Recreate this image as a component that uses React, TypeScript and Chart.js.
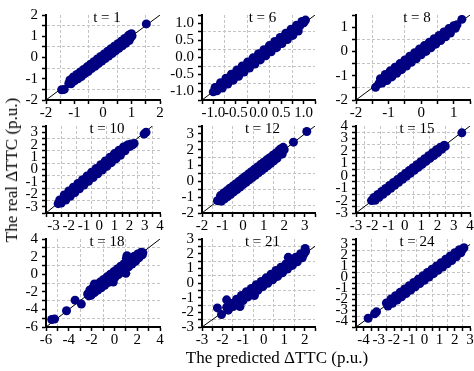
import React, { useEffect, useRef } from 'react';
import { Chart, registerables } from 'chart.js';
Chart.register(...registerables);

const FONT = "'Liberation Serif', 'Times New Roman', serif";

// Panel titles
const titles = ['t = 1', 't = 6', 't = 8', 't = 10', 't = 12', 't = 15', 't = 18', 't = 21', 't = 24'];

// Predicted (x) and real (y) ΔTTC values per panel
const predT1 = [-1.45,-1.36,-1.2,-1.16,-1.12,-1.08,-1.04,-1.0,-0.96,-0.92,-0.88,-0.84,-0.8,-0.76,-0.72,-0.68,-0.64,-0.6,-0.56,-0.52,-0.48,-0.44,-0.4,-0.36,-0.32,-0.28,-0.24,-0.2,-0.16,-0.12,-0.08,-0.04,0.0,0.04,0.08,0.12,0.16,0.2,0.24,0.28,0.32,0.36,0.4,0.44,0.48,0.52,0.56,0.6,0.64,0.68,0.72,0.76,0.8,0.84,0.88,0.92,0.95,0.98,1.0,1.02,1.52];
const realT1 = [-1.52,-1.5,-1.22,-1.06,-1.24,-1.1,-0.92,-1.1,-0.94,-0.8,-1.0,-0.82,-0.68,-0.9,-0.74,-0.56,-0.76,-0.58,-0.44,-0.66,-0.46,-0.32,-0.52,-0.37,-0.2,-0.41,-0.22,-0.07,-0.29,-0.1,0.05,-0.17,0.02,0.17,-0.05,0.13,0.29,0.07,0.26,0.41,0.19,0.38,0.53,0.31,0.5,0.65,0.43,0.62,0.77,0.55,0.74,0.9,0.67,0.86,1.02,0.8,1.08,0.95,1.12,1.02,1.58];

const predT6 = [-1.0,-0.96,-0.92,-0.88,-0.84,-0.8,-0.76,-0.72,-0.68,-0.64,-0.6,-0.56,-0.52,-0.48,-0.44,-0.4,-0.36,-0.32,-0.28,-0.24,-0.2,-0.16,-0.12,-0.08,-0.04,0.0,0.04,0.08,0.12,0.16,0.2,0.24,0.28,0.32,0.36,0.4,0.44,0.48,0.52,0.56,0.6,0.64,0.68,0.72,0.76,0.8,0.84,0.88,0.92,0.96,1.0,1.04];
const realT6 = [-1.01,-0.88,-0.98,-0.85,-0.74,-0.9,-0.75,-0.61,-0.78,-0.63,-0.49,-0.67,-0.51,-0.37,-0.55,-0.39,-0.25,-0.43,-0.27,-0.13,-0.31,-0.15,-0.01,-0.19,-0.03,0.11,-0.07,0.09,0.23,0.05,0.21,0.35,0.17,0.33,0.47,0.29,0.45,0.59,0.41,0.57,0.71,0.53,0.69,0.83,0.65,0.81,0.95,0.78,0.94,1.06,1.02,1.1];

const predT8 = [-1.4,-1.3,-1.25,-1.2,-1.15,-1.1,-1.05,-1.0,-0.95,-0.9,-0.85,-0.8,-0.75,-0.7,-0.65,-0.6,-0.55,-0.5,-0.45,-0.4,-0.35,-0.3,-0.25,-0.2,-0.15,-0.1,-0.05,0.0,0.05,0.1,0.15,0.2,0.25,0.3,0.35,0.4,0.45,0.5,0.55,0.6,0.65,0.7,0.75,0.8,0.85,0.9,0.95,1.0,1.05,1.1,1.25];
const realT8 = [-1.48,-1.33,-1.12,-1.3,-1.14,-0.95,-1.2,-0.99,-0.8,-1.05,-0.84,-0.65,-0.9,-0.69,-0.5,-0.75,-0.54,-0.35,-0.6,-0.39,-0.2,-0.45,-0.24,-0.05,-0.3,-0.09,0.1,-0.14,0.06,0.24,0.0,0.2,0.38,0.15,0.34,0.52,0.3,0.49,0.66,0.45,0.64,0.8,0.6,0.79,0.94,0.76,0.94,1.06,0.95,1.1,1.32];

const predT10 = [-2.7,-2.6,-2.5,-2.4,-2.3,-2.2,-2.1,-2.0,-1.9,-1.8,-1.7,-1.6,-1.5,-1.4,-1.3,-1.2,-1.1,-1.0,-0.9,-0.8,-0.7,-0.6,-0.5,-0.4,-0.3,-0.2,-0.1,0.0,0.1,0.2,0.3,0.4,0.5,0.6,0.7,0.8,0.9,1.0,1.1,1.2,1.3,1.4,1.5,1.6,1.7,1.8,1.9,2.0,2.1,2.2,2.3,2.95,3.08];
const realT10 = [-2.75,-2.45,-2.7,-2.38,-2.05,-2.45,-2.1,-1.72,-2.15,-1.8,-1.42,-1.85,-1.5,-1.12,-1.55,-1.2,-0.82,-1.25,-0.9,-0.52,-0.95,-0.6,-0.22,-0.65,-0.3,0.08,-0.35,0.0,0.38,-0.05,0.3,0.68,0.25,0.6,0.98,0.55,0.9,1.28,0.85,1.2,1.55,1.15,1.5,1.82,1.5,1.9,2.0,1.85,2.05,1.98,2.1,2.85,3.0];

const predT12 = [-1.25,-1.15,-1.1,-1.05,-1.0,-0.95,-0.9,-0.85,-0.8,-0.75,-0.7,-0.65,-0.6,-0.55,-0.5,-0.45,-0.4,-0.35,-0.3,-0.25,-0.2,-0.15,-0.1,-0.05,0.0,0.05,0.1,0.15,0.2,0.25,0.3,0.35,0.4,0.45,0.5,0.55,0.6,0.65,0.7,0.75,0.8,0.85,0.9,0.95,1.0,1.05,1.1,1.15,1.2,1.25,1.3,1.35,1.4,1.45,1.5,1.55,1.6,1.65,1.7,1.75,1.82,1.9,1.95,2.0,2.45,3.1];
const realT12 = [-1.22,-1.2,-0.9,-1.25,-0.98,-0.74,-1.1,-0.84,-0.6,-0.96,-0.71,-0.44,-0.82,-0.56,-0.3,-0.66,-0.41,-0.15,-0.52,-0.26,0.0,-0.36,-0.11,0.16,-0.2,0.04,0.31,-0.06,0.19,0.46,0.09,0.34,0.61,0.24,0.49,0.76,0.39,0.64,0.91,0.54,0.79,1.06,0.69,0.94,1.21,0.84,1.09,1.36,0.99,1.24,1.5,1.14,1.39,1.65,1.3,1.55,1.8,1.45,1.7,1.95,2.05,1.72,2.15,2.0,2.48,3.15];

const predT15 = [-2.05,-1.98,-1.9,-1.82,-1.74,-1.66,-1.58,-1.5,-1.42,-1.34,-1.26,-1.18,-1.1,-1.02,-0.94,-0.86,-0.78,-0.7,-0.62,-0.54,-0.46,-0.38,-0.3,-0.22,-0.14,-0.06,0.02,0.1,0.18,0.26,0.34,0.42,0.5,0.58,0.66,0.74,0.82,0.9,0.98,1.06,1.14,1.22,1.3,1.38,1.46,1.54,1.62,1.7,1.78,1.86,1.94,2.02,2.1,2.18,2.26,2.34,2.42,2.48,3.5];
const realT15 = [-2.0,-1.96,-1.75,-1.97,-1.74,-1.51,-1.73,-1.5,-1.27,-1.49,-1.26,-1.03,-1.25,-1.02,-0.79,-1.01,-0.78,-0.55,-0.77,-0.54,-0.31,-0.53,-0.3,-0.07,-0.29,-0.06,0.17,-0.05,0.18,0.41,0.19,0.42,0.65,0.43,0.66,0.89,0.67,0.9,1.13,0.91,1.14,1.37,1.15,1.38,1.61,1.39,1.62,1.85,1.63,1.86,2.09,1.87,2.1,2.3,2.12,2.33,2.45,2.36,3.45];

const predT18 = [-5.5,-5.25,-4.2,-3.45,-2.9,-1.75,-0.1,1.0,1.05,1.1,1.15,-2.35,-2.25,-2.15,-2.05,-1.95,-1.85,-1.75,-1.65,-1.55,-1.45,-1.35,-1.25,-1.15,-1.05,-0.95,-0.85,-0.75,-0.65,-0.55,-0.45,-0.35,-0.25,-0.15,-0.05,0.05,0.15,0.25,0.35,0.45,0.55,0.65,0.75,0.85,0.95,1.05,1.15,1.25,1.35,1.45,1.55,1.65,1.75,1.85,1.95,2.05,2.15,2.25,2.35,2.45,2.5];
const realT18 = [-5.15,-5.1,-4.15,-2.95,-3.4,-1.1,-0.9,0.1,1.8,2.1,1.95,-2.25,-2.45,-1.8,-2.4,-1.95,-1.45,-2.1,-1.6,-1.15,-1.8,-1.35,-0.9,-1.55,-1.05,-0.6,-1.25,-0.75,-0.3,-0.95,-0.45,0.0,-0.65,-0.15,0.3,-0.35,0.15,0.6,-0.05,0.45,0.9,0.25,0.75,1.2,0.55,1.05,1.5,0.85,1.35,1.8,1.15,1.65,2.05,1.45,1.95,2.3,1.85,2.25,2.5,2.2,2.45];

const predT21 = [-2.25,-2.05,-1.8,-1.15,-0.45,1.2,2.02,-1.8,-1.72,-1.64,-1.56,-1.48,-1.4,-1.32,-1.24,-1.16,-1.08,-1.0,-0.92,-0.84,-0.76,-0.68,-0.6,-0.52,-0.44,-0.36,-0.28,-0.2,-0.12,-0.04,0.04,0.12,0.2,0.28,0.36,0.44,0.52,0.6,0.68,0.76,0.84,0.92,1.0,1.08,1.16,1.24,1.32,1.4,1.48,1.56,1.64,1.72,1.8,1.88,1.96,2.04];
const realT21 = [-1.7,-2.15,-1.15,-1.6,-0.85,1.75,2.35,-1.65,-1.85,-1.5,-1.4,-1.6,-1.35,-1.1,-1.45,-1.12,-0.85,-1.2,-0.9,-0.6,-0.95,-0.66,-0.37,-0.72,-0.42,-0.12,-0.5,-0.18,0.1,-0.25,0.06,0.35,-0.02,0.3,0.6,0.22,0.54,0.85,0.45,0.78,1.08,0.7,1.02,1.3,0.95,1.27,1.55,1.2,1.5,1.75,1.45,1.75,2.0,1.72,1.98,2.15];

const predT24 = [-3.7,-3.28,-3.15,-2.5,-2.4,-2.3,-2.2,-2.1,-2.0,-1.9,-1.8,-1.7,-1.6,-1.5,-1.4,-1.3,-1.2,-1.1,-1.0,-0.9,-0.8,-0.7,-0.6,-0.5,-0.4,-0.3,-0.2,-0.1,0.0,0.1,0.2,0.3,0.4,0.5,0.6,0.7,0.8,0.9,1.0,1.1,1.2,1.3,1.4,1.5,1.6,1.7,1.8,1.9,2.0,2.1,2.2,2.3,2.4,2.5,2.6];
const realT24 = [-3.7,-3.3,-3.12,-2.32,-2.6,-2.28,-1.95,-2.35,-1.98,-1.65,-2.05,-1.68,-1.35,-1.75,-1.38,-1.05,-1.45,-1.08,-0.75,-1.15,-0.78,-0.45,-0.85,-0.48,-0.15,-0.55,-0.18,0.15,-0.25,0.12,0.45,0.05,0.42,0.75,0.35,0.72,1.05,0.65,1.02,1.35,0.95,1.32,1.65,1.25,1.62,1.95,1.55,1.92,2.25,1.88,2.22,2.52,2.25,2.55,2.7];

const predicted = [predT1, predT6, predT8, predT10, predT12, predT15, predT18, predT21, predT24];
const real = [realT1, realT6, realT8, realT10, realT12, realT15, realT18, realT21, realT24];

// Axis ranges and tick steps per panel
const xMin = [-2, -1.25, -2, -3.5, -2, -3, -6, -3, -4.5];
const xMax = [2, 1.25, 1.5, 4, 3.5, 4, 4, 2.5, 3];
const yMin = [-2, -1.25, -2, -3.5, -2, -3, -6, -3, -4.5];
const yMax = [2, 1.25, 1.5, 3.5, 3.5, 4, 4, 3, 3.5];
const majorStep = [1, 0.5, 1, 1, 1, 1, 2, 1, 1];
const minorStep = [0.5, 0.25, 0.5, 0.5, 0.5, 0.5, 1, 0.5, 0.5];
const decimals = [0, 1, 0, 0, 0, 0, 0, 0, 0];

// Layout (plot-area edges in page pixels)
const colLeft = [46, 202, 356];
const colRight = [160, 315, 470];
const rowTop = [14, 125, 238];
const rowBottom = [100, 213, 327];

const Y_AXIS_W = 44;
const X_AXIS_H = 22;
const PAD_TOP = 12;
const PAD_RIGHT = 10;
const TICK_FONT = 15;

const isMultiple = (v: number, step: number) => Math.abs(v / step - Math.round(v / step)) < 1e-6;
const tickList = (min: number, max: number, step: number) => {
  const out: number[] = [];
  const n = Math.round((max - min) / step);
  for (let i = 0; i <= n; i++) out.push(+(min + i * step).toFixed(4));
  return out;
};

function axis(min: number, max: number, major: number, minor: number, dec: number, horizontal: boolean) {
  const ticks = tickList(min, max, minor);
  return {
    type: 'linear',
    min,
    max,
    afterBuildTicks: (s: any) => {
      s.ticks = ticks.map((v) => ({ value: v }));
    },
    afterFit: (s: any) => {
      if (horizontal) s.height = X_AXIS_H;
      else s.width = Y_AXIS_W;
    },
    ticks: {
      autoSkip: false,
      maxRotation: 0,
      minRotation: 0,
      padding: horizontal ? 0 : 4,
      color: '#000',
      font: { family: FONT, size: TICK_FONT },
      callback: (v: any) => (isMultiple(Number(v), major) ? Number(v).toFixed(dec) : ''),
    },
    grid: {
      color: (ctx: any) => {
        const v = ctx.tick ? ctx.tick.value : NaN;
        if (v > min + 1e-6 && v < max - 1e-6 && !isMultiple(v, major)) return '#c4c4c4';
        return 'rgba(0,0,0,0)';
      },
      lineWidth: 1,
      drawTicks: true,
      tickColor: '#000',
      tickLength: 4,
      tickWidth: 1.5,
    },
    border: { display: true, color: '#000', width: 2, dash: [3, 2] },
  };
}

function Panel({ index }: { index: number }) {
  const ref = useRef<HTMLCanvasElement | null>(null);
  const col = index % 3;
  const row = Math.floor(index / 3);
  const L = colLeft[col], R = colRight[col], T = rowTop[row], B = rowBottom[row];
  const cw = R - L + Y_AXIS_W + PAD_RIGHT;
  const ch = B - T + PAD_TOP + X_AXIS_H;

  useEffect(() => {
    if (!ref.current) return;
    const lo = Math.max(xMin[index], yMin[index]);
    const hi = Math.min(xMax[index], yMax[index]);
    const pts = predicted[index].map((x, i) => ({ x, y: real[index][i] }));
    const title = titles[index];
    const titlePlugin = {
      id: 'panelTitle' + index,
      afterDraw(chart: any) {
        const { ctx, chartArea } = chart;
        ctx.save();
        ctx.font = `15px ${FONT}`;
        ctx.fillStyle = '#000';
        ctx.textAlign = 'center';
        ctx.textBaseline = 'alphabetic';
        ctx.fillText(title, (chartArea.left + chartArea.right) / 2 + 4, chartArea.top + 7);
        ctx.restore();
      },
    };
    const chart = new Chart(ref.current, {
      type: 'scatter',
      data: {
        datasets: [
          {
            data: pts,
            backgroundColor: '#000080',
            borderColor: '#000080',
            borderWidth: 0,
            pointRadius: 4.5,
          },
          {
            data: [{ x: lo, y: lo }, { x: hi, y: hi }],
            showLine: true,
            borderColor: '#000',
            borderWidth: 1,
            pointRadius: 0,
          },
        ],
      },
      options: {
        animation: false,
        responsive: false,
        events: [],
        layout: { padding: { left: 0, top: PAD_TOP, right: PAD_RIGHT, bottom: 0 } },
        plugins: { legend: { display: false }, tooltip: { enabled: false } },
        scales: {
          x: axis(xMin[index], xMax[index], majorStep[index], minorStep[index], decimals[index], true),
          y: axis(yMin[index], yMax[index], majorStep[index], minorStep[index], decimals[index], false),
        },
      } as any,
      plugins: [titlePlugin],
    });
    return () => chart.destroy();
  }, [index]);

  return (
    <canvas
      ref={ref}
      width={cw}
      height={ch}
      style={{ position: 'absolute', left: L - Y_AXIS_W, top: T - PAD_TOP, width: cw, height: ch }}
    />
  );
}

export default function App() {
  return (
    <div
      style={{
        position: 'fixed',
        left: 0,
        top: 0,
        width: 474,
        height: 371,
        overflow: 'hidden',
        background: '#fff',
      }}
    >
      {titles.map((_, i) => (
        <Panel key={i} index={i} />
      ))}
      <div
        style={{
          position: 'absolute',
          left: 277,
          top: 358,
          transform: 'translate(-50%, -50%)',
          fontFamily: FONT,
          fontSize: 17,
          whiteSpace: 'nowrap',
          color: '#000',
        }}
      >
        The predicted ΔTTC (p.u.)
      </div>
      <div
        style={{
          position: 'absolute',
          left: 12,
          top: 170,
          transform: 'translate(-50%, -50%) rotate(-90deg)',
          fontFamily: FONT,
          fontSize: 17,
          whiteSpace: 'nowrap',
          color: '#000',
        }}
      >
        The real ΔTTC (p.u.)
      </div>
    </div>
  );
}
